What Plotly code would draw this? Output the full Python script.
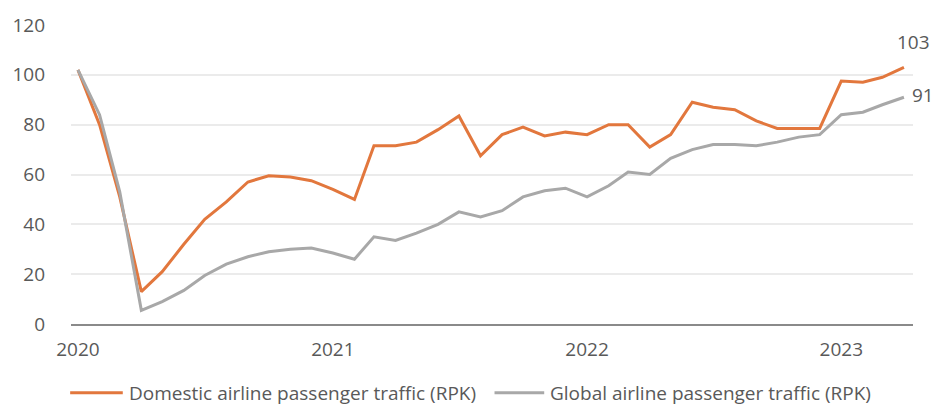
import plotly.graph_objects as go
import pandas as pd

months = pd.date_range("2020-01-01", "2023-04-01", freq="MS").strftime("%Y-%m-%d").tolist()

domestic = [102, 80, 51, 13, 21, 32, 42, 49, 57, 59.5, 59, 57.5,
            54, 50, 71.5, 71.5, 73, 78, 83.5, 67.5, 76, 79, 75.5, 77,
            76, 80, 80, 71, 76, 89, 87, 86, 81.5, 78.5, 78.5, 78.5,
            97.5, 97, 99, 103]
global_ = [102, 84, 53, 5.5, 9, 13.5, 19.5, 24, 27, 29, 30, 30.5,
           28.5, 26, 35, 33.5, 36.5, 40, 45, 43, 45.5, 51, 53.5, 54.5,
           51, 55.5, 61, 60, 66.5, 70, 72, 72, 71.5, 73, 75, 76,
           84, 85, 88, 91]

series_names = ["Domestic airline passenger traffic (RPK)",
                "Global airline passenger traffic (RPK)"]
year_ticks = ["2020-01-01", "2021-01-01", "2022-01-01", "2023-01-01"]
year_labels = ["2020", "2021", "2022", "2023"]
y_ticks = [0, 20, 40, 60, 80, 100, 120]

ORANGE = "#E2773D"
GRAY = "#A8A8A8"
TXT = "#595959"
FONT = "Open Sans"
FS = 19

fig = go.Figure()
fig.add_trace(go.Scatter(x=months, y=domestic, mode="lines", name=series_names[0],
                         line=dict(color=ORANGE, width=3)))
fig.add_trace(go.Scatter(x=months, y=global_, mode="lines", name=series_names[1],
                         line=dict(color=GRAY, width=3)))

# end labels
fig.add_annotation(x=months[-1], y=domestic[-1], text=str(round(domestic[-1])),
                   showarrow=False, xanchor="center", yanchor="bottom",
                   xshift=10, yshift=10, font=dict(family=FONT, size=FS, color=TXT))
fig.add_annotation(x=months[-1], y=global_[-1], text=str(round(global_[-1])),
                   showarrow=False, xanchor="left", yanchor="middle",
                   xshift=6, yshift=2, font=dict(family=FONT, size=FS, color=TXT))

# legend drawn below the plot
LEG_Y = -0.23
legend_items = [(series_names[0], ORANGE, -0.001, 0.0615),
                (series_names[1], GRAY, 0.503, 0.562)]
for name, col, x0, x1 in legend_items:
    fig.add_shape(type="line", xref="paper", yref="paper", x0=x0, x1=x1,
                  y0=LEG_Y, y1=LEG_Y, line=dict(color=col, width=3))
    fig.add_annotation(xref="paper", yref="paper", x=x1 + 0.005, y=LEG_Y,
                       text=name, showarrow=False, xanchor="left", yanchor="middle",
                       font=dict(family=FONT, size=19, color=TXT))

fig.update_layout(
    width=935, height=406,
    margin=dict(l=68, r=22, t=24, b=82),
    paper_bgcolor="white", plot_bgcolor="white",
    font=dict(family=FONT, size=FS, color=TXT),
    showlegend=False,
    xaxis=dict(type="date", range=["2019-12-22", "2023-04-14"],
               tickvals=year_ticks, ticktext=year_labels,
               showgrid=False, showline=True, linecolor="#8a8a8a", linewidth=2,
               ticks="", ticklabelstandoff=7, zeroline=False,
               tickfont=dict(family=FONT, size=FS, color=TXT)),
    yaxis=dict(range=[0, 120], tickvals=y_ticks, showgrid=True,
               gridcolor="#ebebeb", gridwidth=1.5, zeroline=False,
               showline=False, ticks="", ticklabelstandoff=25,
               tickfont=dict(family=FONT, size=FS, color=TXT)),
)

fig.write_html("out.html")
